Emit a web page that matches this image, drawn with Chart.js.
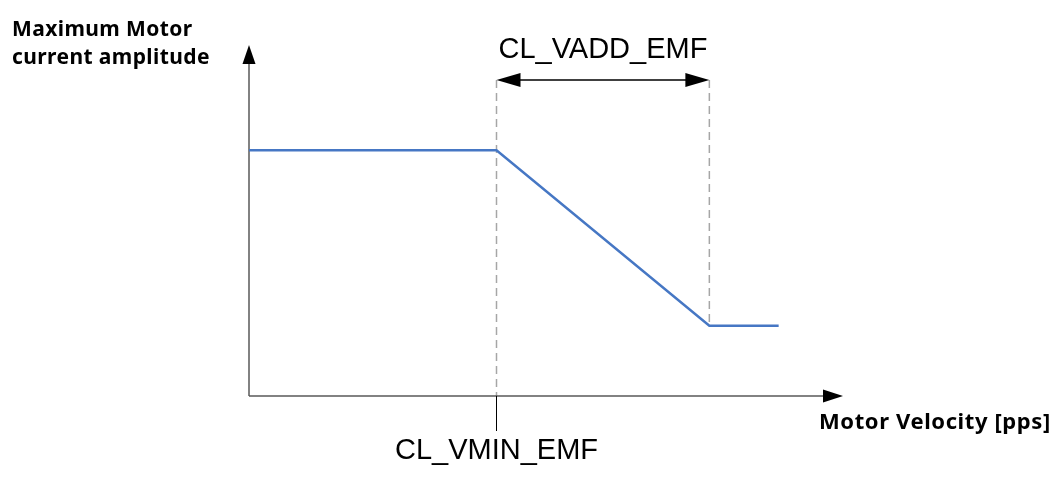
<!DOCTYPE html>
<html lang="en">
<head>
    <meta charset="UTF-8">
    <title>Maximum Motor current amplitude</title>
    <script src="https://cdn.jsdelivr.net/npm/chart.js"></script>
    <style>
        body {
            margin: 0;
            padding: 0;
            background: #ffffff;
        }

        .chart-container {
            position: relative;
            width: 1062px;
            height: 477px;
        }
    </style>
</head>
<body>
    <div class="chart-container">
        <canvas id="emfChart"></canvas>
    </div>

    <script>
        // curve: velocity (x) vs. max current (y), arbitrary units
        const velocity = [0, 25, 46.5, 53.5];
        const currentAmp = [7, 7, 2, 2];

        // marker positions on the velocity axis
        const vminEmf = 25;
        const vaddEnd = 46.5;
        const spanLevel = 9;   // height of the CL_VADD_EMF double arrow

        const labels = {
            yTitle: ['Maximum Motor', 'current amplitude'],
            xTitle: 'Motor Velocity [pps]',
            vadd: 'CL_VADD_EMF',
            vmin: 'CL_VMIN_EMF'
        };

        const points = velocity.map((v, i) => ({ x: v, y: currentAmp[i] }));

        function arrowHead(ctx, x, y, dir, len, half) {
            // dir: 'up', 'right', 'left'
            ctx.beginPath();
            ctx.moveTo(x, y);
            if (dir === 'up') {
                ctx.lineTo(x - half, y + len);
                ctx.lineTo(x + half, y + len);
            } else if (dir === 'right') {
                ctx.lineTo(x - len, y - half);
                ctx.lineTo(x - len, y + half);
            } else {
                ctx.lineTo(x + len, y - half);
                ctx.lineTo(x + len, y + half);
            }
            ctx.closePath();
            ctx.fill();
        }

        const diagramPlugin = {
            id: 'diagram',
            beforeDatasetsDraw(chart) {
                const ctx = chart.ctx;
                const xs = chart.scales.x;
                const ys = chart.scales.y;
                const area = chart.chartArea;
                const x0 = xs.getPixelForValue(0);
                const y0 = ys.getPixelForValue(0);
                const xMin = xs.getPixelForValue(vminEmf);
                const xAdd = xs.getPixelForValue(vaddEnd);
                const ySpan = ys.getPixelForValue(spanLevel);
                const yLow = ys.getPixelForValue(currentAmp[currentAmp.length - 1]);

                ctx.save();

                // dashed guides
                ctx.strokeStyle = '#a6a6a6';
                ctx.lineWidth = 1.5;
                ctx.setLineDash([8, 5]);
                ctx.beginPath();
                ctx.moveTo(xMin, ySpan);
                ctx.lineTo(xMin, y0);
                ctx.moveTo(xAdd, ySpan);
                ctx.lineTo(xAdd, yLow);
                ctx.stroke();
                ctx.setLineDash([]);

                // axes
                ctx.strokeStyle = '#595959';
                ctx.lineWidth = 1.5;
                ctx.beginPath();
                ctx.moveTo(x0, y0);
                ctx.lineTo(x0, area.top + 15);
                ctx.moveTo(x0, y0);
                ctx.lineTo(area.right - 15, y0);
                ctx.stroke();
                ctx.fillStyle = '#000000';
                arrowHead(ctx, x0, area.top, 'up', 19, 6.5);
                arrowHead(ctx, area.right, y0, 'right', 20, 6.5);

                // tick under CL_VMIN_EMF
                ctx.strokeStyle = '#000000';
                ctx.lineWidth = 1;
                ctx.beginPath();
                ctx.moveTo(xMin, y0);
                ctx.lineTo(xMin, y0 + 35);
                ctx.stroke();

                // double arrow for CL_VADD_EMF
                ctx.lineWidth = 1.5;
                ctx.beginPath();
                ctx.moveTo(xMin + 20, ySpan);
                ctx.lineTo(xAdd - 20, ySpan);
                ctx.stroke();
                arrowHead(ctx, xMin, ySpan, 'left', 24, 7);
                arrowHead(ctx, xAdd, ySpan, 'right', 24, 7);

                // texts
                ctx.fillStyle = '#000000';
                ctx.textBaseline = 'alphabetic';
                ctx.font = 'bold 21px "Noto Sans"';
                ctx.letterSpacing = '0.4px';
                ctx.textAlign = 'left';
                ctx.fillText(labels.yTitle[0], 12, 36);
                ctx.fillText(labels.yTitle[1], 12, 64);
                ctx.font = 'bold 22px "Noto Sans"';
                ctx.letterSpacing = '0.6px';
                ctx.fillText(labels.xTitle, area.right - 24, y0 + 33);
                ctx.letterSpacing = '0px';

                ctx.font = '29px "Liberation Sans"';
                ctx.textAlign = 'center';
                ctx.fillText(labels.vadd, (xMin + xAdd) / 2, ySpan - 22);
                ctx.fillText(labels.vmin, xMin, y0 + 63);

                ctx.restore();
            }
        };

        new Chart(document.getElementById('emfChart').getContext('2d'), {
            type: 'line',
            data: {
                datasets: [{
                    label: 'Maximum Motor current amplitude',
                    data: points,
                    borderColor: '#4677c4',
                    borderWidth: 2.5,
                    pointRadius: 0,
                    tension: 0,
                    fill: false
                }]
            },
            options: {
                responsive: true,
                maintainAspectRatio: false,
                animation: false,
                devicePixelRatio: 1,
                layout: {
                    padding: { left: 249, right: 219, top: 45, bottom: 81 }
                },
                plugins: {
                    legend: { display: false },
                    tooltip: { enabled: false }
                },
                scales: {
                    x: {
                        type: 'linear',
                        min: 0,
                        max: 60,
                        display: false
                    },
                    y: {
                        type: 'linear',
                        min: 0,
                        max: 10,
                        display: false
                    }
                }
            },
            plugins: [diagramPlugin]
        });
    </script>
</body>
</html>
